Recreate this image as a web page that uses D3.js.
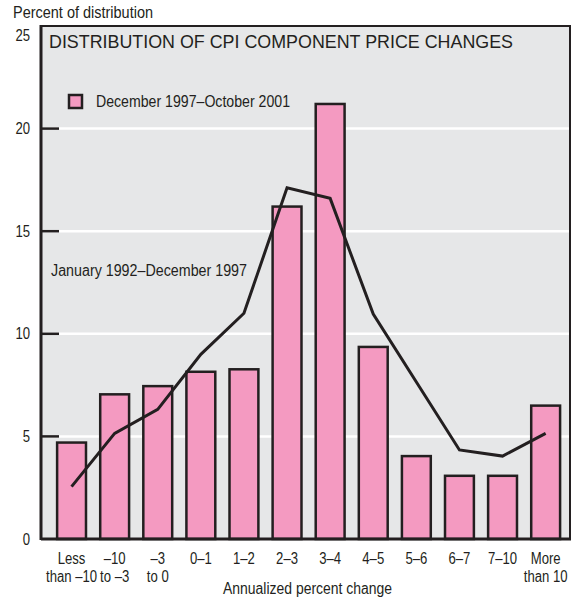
<!DOCTYPE html>
<html><head><meta charset="utf-8">
<script src="https://cdn.jsdelivr.net/npm/d3@7"></script>
<style>
body{margin:0;background:#fff;}
text{font-family:"Liberation Sans",Arial,sans-serif;fill:#231f20;}
</style></head>
<body><svg id="c" width="582" height="600"></svg>
<script>
const categories = ["Less|than \u201310","\u201310|to \u20133","\u20133|to 0","0\u20131","1\u20132","2\u20133","3\u20134","4\u20135","5\u20136","6\u20137","7\u201310","More|than 10"];
const recentValues = [4.7, 7.05, 7.45, 8.15, 8.27, 16.2, 21.2, 9.36, 4.04, 3.08, 3.08, 6.5];
const earlierValues = [2.55, 5.15, 6.32, 9.0, 11.0, 17.12, 16.6, 10.96, 7.65, 4.34, 4.04, 5.15];
const yTicks = [0, 5, 10, 15, 20, 25];
const titleText = "DISTRIBUTION OF CPI COMPONENT PRICE CHANGES";
const recentLabel = "December 1997\u2013October 2001";
const earlierLabel = "January 1992\u2013December 1997";
const yAxisTitle = "Percent of distribution";
const xAxisTitle = "Annualized percent change";

const ink = "#231f20", pink = "#f49ac1", bg = "#e6e7e8";
const SX = 0.82;
const svg = d3.select("#c");
const L = 41, R = 570, T = 26, B = 539;
const y = d3.scaleLinear().domain([0, 25]).range([B, T]);
const x = d3.scaleBand().domain(categories).range([50, 567.2]).paddingInner(0.33).paddingOuter(0.165);

function txt(px, py, s, size, anchor, len) {
  const g = svg.append("g").attr("transform", `translate(${px},${py}) scale(${SX},1)`);
  const t = g.append("text").attr("x", 0).attr("y", 0).attr("font-size", size)
    .attr("text-anchor", anchor || "start").text(s);
  if (len) t.attr("textLength", len / SX).attr("lengthAdjust", "spacingAndGlyphs");
  return t;
}

svg.append("rect").attr("x", L).attr("y", T).attr("width", R - L).attr("height", B - T).attr("fill", bg);

svg.selectAll("line.grid").data(yTicks.filter(d => d > 0 && d < 25)).enter().append("line")
  .attr("x1", L).attr("x2", R).attr("y1", d => y(d)).attr("y2", d => y(d))
  .attr("stroke", "#fff").attr("stroke-width", 2.5);

svg.selectAll("rect.bar").data(recentValues).enter().append("rect")
  .attr("x", (d, i) => x(categories[i])).attr("width", x.bandwidth())
  .attr("y", d => y(d)).attr("height", d => B - y(d))
  .attr("fill", pink).attr("stroke", ink).attr("stroke-width", 2.5);

const line = d3.line().x((d, i) => x(categories[i]) + x.bandwidth() / 2).y(d => y(d));
svg.append("path").attr("d", line(earlierValues)).attr("fill", "none")
  .attr("stroke", ink).attr("stroke-width", 3).attr("stroke-linejoin", "miter");

svg.append("rect").attr("x", L).attr("y", T).attr("width", R - L).attr("height", B - T)
  .attr("fill", "none").attr("stroke", ink).attr("stroke-width", 2);
svg.append("line").attr("x1", L).attr("x2", R + 1).attr("y1", B).attr("y2", B).attr("stroke", ink).attr("stroke-width", 3);
svg.append("line").attr("x1", L).attr("x2", L).attr("y1", T - 1).attr("y2", B + 1).attr("stroke", ink).attr("stroke-width", 3);

svg.selectAll("line.tick").data(yTicks.filter(d => d > 0 && d < 25)).enter().append("line")
  .attr("x1", L).attr("x2", 59).attr("y1", d => y(d)).attr("y2", d => y(d))
  .attr("stroke", ink).attr("stroke-width", 2.5);
yTicks.forEach(d => txt(30, y(d) + (d === 25 ? 9 : 0) + 5.5, String(d), 16, "end"));

txt(13, 18, yAxisTitle, 16, "start", 140);
txt(49, 48, titleText, 18, "start", 464);

svg.append("rect").attr("x", 69).attr("y", 95).attr("width", 13).attr("height", 13)
  .attr("fill", pink).attr("stroke", ink).attr("stroke-width", 2.5);
txt(96, 107, recentLabel, 16, "start", 194);
txt(51, 276, earlierLabel, 16, "start", 196);

categories.forEach(c => {
  const cx = x(c) + x.bandwidth() / 2;
  c.split("|").forEach((p, j) => txt(cx, 564 + j * 18, p, 16, "middle"));
});
txt(307.5, 594, xAxisTitle, 16, "middle", 169);
</script></body></html>
